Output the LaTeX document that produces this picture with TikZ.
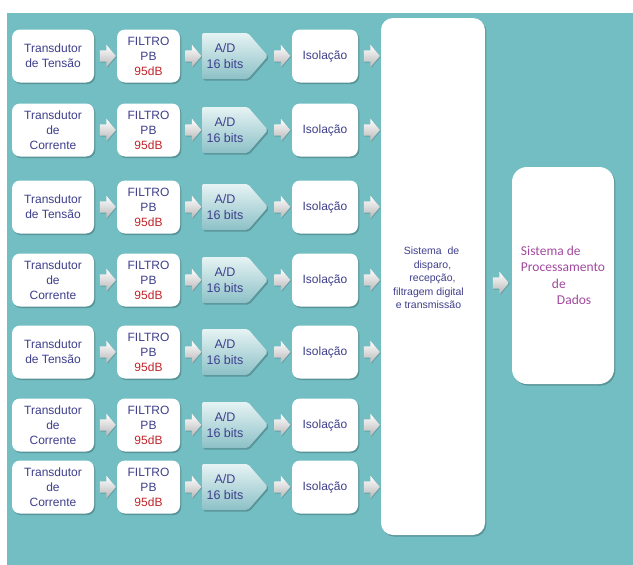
\documentclass[tikz,border=0pt]{standalone}
\usepackage{fontspec}
\setmainfont{Liberation Sans}
\newfontfamily\calibrifont{Carlito}
\usetikzlibrary{shapes.arrows,shadows,calc}
\definecolor{bgteal}{HTML}{72BEC3}
\definecolor{txtblue}{HTML}{3F3F8C}
\definecolor{dbred}{HTML}{C0262B}
\definecolor{spmag}{HTML}{A24A9E}
\definecolor{adtop}{HTML}{E6F3F4}
\definecolor{adbot}{HTML}{8CC1C7}
\definecolor{arrowgray}{HTML}{B8B8B8}

\begin{document}
\begin{tikzpicture}[x=1pt,y=-1pt,
  softshadow/.style={drop shadow={shadow xshift=1.3pt, shadow yshift=-1.6pt, opacity=0.22, fill=black}},
  whitebox/.style={fill=white, rounded corners=8pt, align=center, text=txtblue,
    font=\fontsize{12}{15}\selectfont, inner sep=0pt, minimum height=53pt, softshadow},
  adshape/.style={top color=adtop, bottom color=adbot, rounded corners=2pt, softshadow},
  adtext/.style={minimum width=46pt, minimum height=46pt, inner sep=0pt, align=center,
    text=txtblue, font=\fontsize{12.5}{16}\selectfont},
  flow/.style={single arrow, single arrow head extend=5.5pt, single arrow tip angle=100,
    minimum height=16pt, inner xsep=0pt, inner ysep=5.5pt,
    top color=white, bottom color=arrowgray, draw=none,
    drop shadow={shadow xshift=0.8pt, shadow yshift=-0.8pt, opacity=0.15, fill=black}}
]
\useasboundingbox (0,0) rectangle (633,565);
\fill[bgteal] (7,13) rectangle (633,565);

% acquisition chains, one per measured quantity
\foreach \r/\y/\lbl in {
  1/56/{Transdutor\\de Tensão},
  2/130/{Transdutor\\de\\Corrente},
  3/207/{Transdutor\\de Tensão},
  4/280/{Transdutor\\de\\Corrente},
  5/352/{Transdutor\\de Tensão},
  6/425/{Transdutor\\de\\Corrente},
  7/487/{Transdutor\\de\\Corrente}} {
  \node[whitebox, minimum width=82pt] (t\r) at (53,\y) {\lbl};
  \node[whitebox, minimum width=63pt] (f\r) at (148.5,\y) {FILTRO\\PB\\\textcolor{dbred}{95dB}};
  % A/D converter: pentagon pointing right
  \path[adshape] (202,\y-23) -- (248,\y-23) -- (268,\y) -- (248,\y+23) -- (202,\y+23) -- cycle;
  \node[adtext] (d\r) at (225,\y) {A/D\\16 bits};
  \coordinate (dt\r) at (268,\y);
  \node[whitebox, minimum width=66pt] (i\r) at (325,\y) {Isolação};
}

% central trigger / reception unit and processing unit
\node[fill=white, rounded corners=12pt, minimum width=104pt, minimum height=517pt,
      inner sep=0pt, softshadow] (big) at (433,276.5) {};
\node[align=center, text=txtblue, font=\fontsize{10.5}{13.5}\selectfont, inner sep=0pt]
  (bigtxt) at (428.5,278)
  {\hspace*{6pt}Sistema\ \ de\\\hspace*{8pt}disparo,\\\hspace*{8pt}recepção,\\filtragem digital\\e transmissão};
\node[fill=white, rounded corners=15pt, minimum width=102pt, minimum height=217pt,
      inner sep=0pt, align=left, text=spmag, font=\calibrifont\fontsize{13.5}{16.5}\selectfont,
      softshadow] (sp) at (563,275.5)
  {Sistema de\\Processamento\\\hspace*{31pt}de\\\hspace*{36pt}Dados};

% block arrows between the stages
\foreach \r in {1,...,7} {
  \node[flow] (ta\r) at ($(t\r.east)!0.5!(f\r.west)$) {};
  \node[flow] (fa\r) at ($(f\r.east)!0.5!(d\r.west)$) {};
  \node[flow] (da\r) at ($(dt\r)!0.5!(i\r.west)$) {};
  \node[flow] (ia\r) at ($(i\r.east)!0.5!(i\r.east -| big.west)$) {};
}
\node[flow] (ba) at ($(big.east |- 0,283)!0.5!(sp.west |- 0,283)$) {};
\end{tikzpicture}
\end{document}
